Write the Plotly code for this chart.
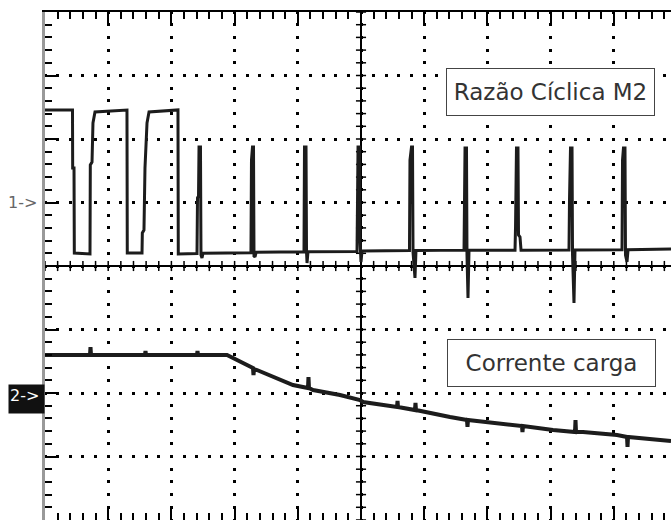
import plotly.graph_objects as go

# scope screen is 10 x 8 divisions; everything below is read in divisions
# (time: 0 at left edge, volts: 0 at the centre line)

# channel 1 - duty cycle of M2 (PWM, then short pulses)
ch1_t = [0, 0.435, 0.438, 0.459, 0.464, 0.712, 0.717, 0.744, 0.759, 0.791,
         1.297, 1.302, 1.535, 1.540, 1.566, 1.582, 1.614, 1.646, 2.104, 2.109,
         2.405, 2.413, 2.429, 2.437, 2.460, 2.468, 2.484, 2.50,
         3.259, 3.267, 3.283, 3.299, 3.307, 3.323, 3.34,
         4.098, 4.106, 4.130, 4.138, 4.146, 4.161,
         4.937, 4.945, 4.953, 4.976, 4.984, 5.000, 5.016,
         5.767, 5.775, 5.799, 5.815, 5.823, 5.854, 5.870,
         6.630, 6.638, 6.646, 6.669, 6.677, 6.693, 6.709,
         7.437, 7.445, 7.460, 7.484, 7.492, 7.516, 7.532,
         8.291, 8.299, 8.315, 8.339, 8.347, 8.370, 8.386,
         9.130, 9.138, 9.153, 9.177, 9.185, 9.209, 9.225,
         9.905]
ch1_v = [2.457, 2.457, 1.543, 1.543, 0.205, 0.189, 1.591, 1.638, 2.252, 2.425,
         2.457, 0.205, 0.205, 0.520, 0.567, 1.543, 2.252, 2.425, 2.457, 0.189,
         0.195, 1.071, 1.102, 1.874, 1.874, 0.173, 0.126, 0.200,
         0.210, 1.669, 1.874, 1.874, 0.157, 0.142, 0.215,
         0.225, 1.874, 1.874, 0.220, 0.047, 0.225,
         0.230, 1.039, 1.874, 1.874, 0.409, 0.063, 0.235,
         0.245, 1.669, 1.874, 1.874, 0.220, -0.189, 0.245,
         0.250, 1.039, 1.858, 1.858, 0.173, -0.504, 0.250,
         0.250, 0.614, 1.858, 1.858, 0.488, 0.457, 0.250,
         0.252, 1.039, 1.858, 1.858, 0.173, -0.583, 0.252,
         0.255, 1.669, 1.858, 1.858, 0.173, 0.063, 0.255,
         0.268]

# channel 2 - load current
ch2_t = [0, 0.712, 0.720, 0.728, 1.582, 1.590, 1.598, 2.405, 2.413, 2.421,
         2.880, 3.085, 3.291, 3.299, 3.307, 3.354, 3.608, 3.924, 4.161, 4.169,
         4.177, 4.241, 4.668, 4.984, 5.032, 5.538, 5.570, 5.578, 5.585, 5.854,
         5.862, 5.870, 6.013, 6.408, 6.677, 6.685, 6.693, 7.009, 7.547, 7.555,
         7.563, 8.038, 8.386, 8.394, 8.402, 8.513, 9.051, 9.209, 9.217, 9.225,
         9.415, 9.905]
ch2_v = [-1.402, -1.402, -1.276, -1.402, -1.402, -1.339, -1.402, -1.402, -1.339, -1.402,
         -1.402, -1.512, -1.606, -1.717, -1.622, -1.638, -1.748, -1.874, -1.921, -1.748,
         -1.921, -1.953, -2.031, -2.110, -2.142, -2.220, -2.220, -2.126, -2.220, -2.268,
         -2.157, -2.268, -2.299, -2.378, -2.425, -2.535, -2.425, -2.457, -2.520, -2.614,
         -2.520, -2.583, -2.614, -2.425, -2.614, -2.614, -2.661, -2.693, -2.850, -2.693,
         -2.709, -2.756]

ch1_name = "Razão Cíclica M2"
ch2_name = "Corrente carga"
ch1_ref = 1
ch2_ref = -2

FONT = "DejaVu Sans"

fig = go.Figure()
fig.add_trace(go.Scatter(x=ch1_t, y=ch1_v, mode="lines",
                         line=dict(color="#1c1c1c", width=3)))
fig.add_trace(go.Scatter(x=ch2_t, y=ch2_v, mode="lines",
                         line=dict(color="#1c1c1c", width=4)))

# centre cross with small ticks on both sides
fig.add_shape(type="line", x0=5, x1=5, y0=-4, y1=4, layer="between",
              line=dict(color="black", width=2))
fig.add_shape(type="line", x0=0, x1=10, y0=0, y1=0, layer="between",
              line=dict(color="black", width=2))
for k in range(-20, 21):
    fig.add_shape(type="line", x0=4.92, x1=5.08, y0=k * 0.2, y1=k * 0.2,
                  layer="between", line=dict(color="black", width=1.5))
for k in range(0, 50):
    fig.add_shape(type="line", x0=k * 0.2, x1=k * 0.2, y0=-0.08, y1=0.08,
                  layer="between", line=dict(color="black", width=1.5))

# labels in boxes
fig.add_annotation(x=8.0, y=2.74, text=ch1_name, showarrow=False,
                   font=dict(family=FONT, size=23, color="#333333"),
                   bgcolor="white", bordercolor="#444444", borderwidth=1,
                   borderpad=1, width=205, height=44)
fig.add_annotation(x=8.02, y=-1.53, text=ch2_name, showarrow=False,
                   font=dict(family=FONT, size=23, color="#333333"),
                   bgcolor="white", bordercolor="#444444", borderwidth=1,
                   borderpad=1, width=205, height=44)

# channel reference markers
fig.add_annotation(xref="paper", x=0, y=ch1_ref, text="1->", showarrow=False,
                   xanchor="right", xshift=-6,
                   font=dict(family=FONT, size=16, color="#666666"))
fig.add_annotation(xref="paper", x=0, y=ch2_ref, text="2->", showarrow=False,
                   xanchor="right", yanchor="top", yshift=9,
                   align="left", valign="top", width=33, height=26, borderpad=1,
                   bgcolor="#111111",
                   font=dict(family=FONT, size=16, color="white"))

fig.update_layout(
    width=671, height=520,
    margin=dict(l=45, r=0, t=12, b=0, pad=0),
    paper_bgcolor="white", plot_bgcolor="white",
    showlegend=False, hovermode=False,
)
fig.update_xaxes(range=[0, 9.905], dtick=1, tick0=0, showticklabels=False,
                 showgrid=True, gridcolor="black", gridwidth=3,
                 griddash="1.5px,9.7px,1.5px,0px", zeroline=False,
                 showline=True, linecolor="black", linewidth=2, mirror="ticks",
                 ticks="inside", ticklen=12, tickwidth=1.5, tickcolor="black",
                 minor=dict(dtick=0.2, ticks="inside", ticklen=7, tickwidth=1.5,
                            tickcolor="black", showgrid=False))
fig.update_yaxes(range=[-4, 4], dtick=1, tick0=0, showticklabels=False,
                 showgrid=True, gridcolor="black", gridwidth=3,
                 griddash="1.5px,9.64px,1.5px,0px", zeroline=False,
                 showline=True, linecolor="#999999", linewidth=2.5, mirror=False,
                 ticks="inside", ticklen=12, tickwidth=1.5, tickcolor="black",
                 minor=dict(dtick=0.2, ticks="inside", ticklen=7, tickwidth=1.5,
                            tickcolor="black", showgrid=False))

# page has a default 8px body margin; drop it so the figure sits at 0,0
fig.write_html("out.html", config={"displayModeBar": False},
               post_script="document.body.style.margin='0';")
